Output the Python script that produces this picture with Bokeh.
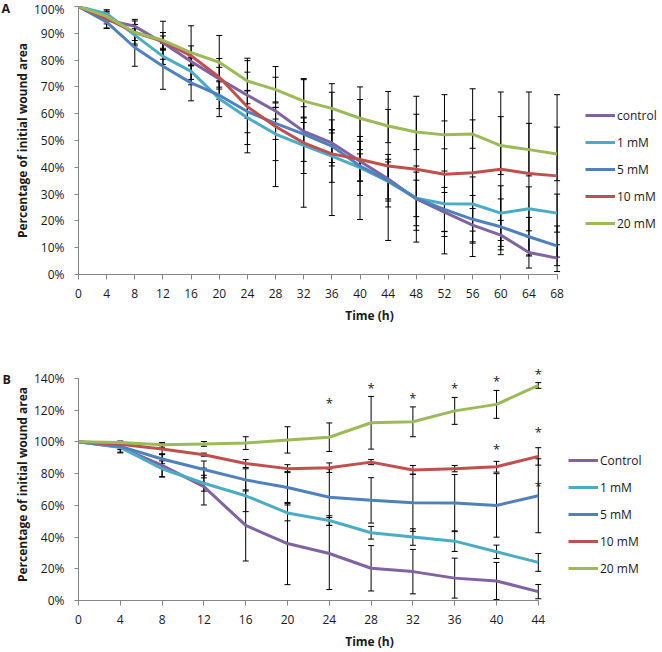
from bokeh.plotting import figure
from bokeh.models import (ColumnDataSource, Whisker, TeeHead, Legend, LegendItem,
                          FixedTicker, PrintfTickFormatter, Label, Range1d)
from bokeh.layouts import column
from bokeh.core.properties import value
from bokeh.embed import file_html
from bokeh.resources import INLINE

FONT = "Open Sans"
COLORS = ["#8064A2", "#4BACC6", "#4F81BD", "#C0504D", "#9BBB59"]

# ---------------- Panel A data ----------------
hours_a = [0, 4, 8, 12, 16, 20, 24, 28, 32, 36, 40, 44, 48, 52, 56, 60, 64, 68]
names_a = ["control", "1 mM", "5 mM", "10 mM", "20 mM"]
a_control = [100, 95.0, 92.6, 86.5, 79.5, 73.0, 66.9, 61.0, 53.4, 49.1, 42.3, 35.6, 28.2, 23.3, 18.4, 14.7, 8.2, 6.1]
a_control_err = [0, 3.0, 2.6, 2.5, 1.6, 7.6, 8.6, 3.0, 5.0, 8.6, 7.4, 7.4, 10.0, 7.3, 6.2, 5.5, 5.8, 5.0]
a_1mm = [100, 97.3, 89.3, 81.4, 75.8, 65.6, 58.5, 52.4, 48.2, 44.2, 39.9, 34.7, 28.5, 26.4, 26.3, 22.9, 24.5, 22.9]
a_1mm_err = [0, 1.5, 4.0, 3.0, 5.0, 6.7, 10.0, 9.9, 10.5, 9.8, 5.1, 7.3, 12.0, 12.2, 10.1, 10.2, 8.2, 7.1]
a_5mm = [100, 94.2, 84.7, 77.7, 71.5, 66.9, 60.8, 56.4, 52.4, 47.9, 40.5, 35.0, 28.4, 24.3, 20.6, 17.8, 14.1, 10.7]
a_5mm_err = [0, 2.4, 7.0, 8.6, 6.7, 5.0, 7.9, 6.0, 10.2, 6.1, 11.0, 9.8, 6.8, 8.2, 8.9, 10.4, 7.2, 7.4]
a_10mm = [100, 95.5, 90.3, 87.0, 81.6, 73.6, 62.6, 55.2, 49.1, 45.0, 42.9, 40.5, 39.3, 37.4, 38.0, 39.3, 37.7, 36.8]
a_10mm_err = [0, 2.0, 3.0, 3.3, 3.7, 3.7, 17.2, 22.4, 24.0, 23.0, 22.4, 27.8, 27.2, 29.7, 31.3, 28.8, 30.4, 30.3]
a_20mm = [100, 96.3, 90.3, 87.4, 82.8, 79.2, 72.2, 69.0, 64.7, 62.0, 58.3, 55.4, 53.2, 52.1, 52.4, 48.1, 46.6, 45.0]
a_20mm_err = [0, 2.0, 4.3, 7.1, 10.0, 10.0, 8.5, 4.6, 8.0, 9.2, 11.7, 6.2, 6.6, 5.2, 5.3, 10.8, 9.8, 10.0]
yticks_a = [0, 10, 20, 30, 40, 50, 60, 70, 80, 90, 100]

# ---------------- Panel B data ----------------
hours_b = [0, 4, 8, 12, 16, 20, 24, 28, 32, 36, 40, 44]
names_b = ["Control", "1 mM", "5 mM", "10 mM", "20 mM"]
b_control = [100, 96.5, 85.1, 71.8, 47.3, 35.9, 29.6, 20.3, 18.2, 14.1, 12.3, 5.6]
b_control_err = [0, 3.5, 7.3, 11.6, 22.4, 25.9, 22.7, 14.3, 14.0, 12.6, 11.7, 4.5]
b_1mm = [100, 96.5, 83.0, 73.9, 66.0, 55.2, 50.4, 42.7, 40.0, 37.4, 30.7, 24.0]
b_1mm_err = [0, 3.0, 5.0, 5.0, 10.0, 5.0, 3.0, 4.0, 5.2, 6.5, 4.2, 5.6]
b_5mm = [100, 97.1, 89.2, 82.6, 76.0, 71.2, 65.1, 63.1, 61.6, 61.4, 59.9, 66.0]
b_5mm_err = [0, 2.0, 3.0, 5.3, 7.0, 10.0, 17.8, 14.3, 18.0, 18.0, 20.0, 23.3]
b_10mm = [100, 98.5, 95.4, 91.9, 86.3, 83.1, 83.7, 87.2, 82.3, 83.1, 84.3, 90.8]
b_10mm_err = [0, 1.0, 3.5, 1.0, 2.5, 2.5, 3.0, 1.6, 2.8, 2.0, 3.4, 5.5]
b_20mm = [100, 99.5, 98.1, 98.7, 99.2, 101.2, 102.9, 112.0, 112.6, 119.5, 123.6, 135.5]
b_20mm_err = [0, 1.0, 1.5, 1.5, 4.0, 8.3, 9.0, 16.6, 9.4, 8.5, 8.8, 1.8]
yticks_b = [0, 20, 40, 60, 80, 100, 120, 140]
star_hours_b = [24, 28, 32, 36, 40, 44, 40, 44, 44]
star_pct_b = [126.1, 136.1, 129.2, 135.5, 140.3, 144.8, 97.5, 107.9, 73.9]

AXIS_COL = "#868686"
TXT_COL = "#1a1a1a"
FIG_W = 662
LEFT = 78


def make_panel(letter, hours, series, errors, names, yticks, y_end, px_per_hour,
               height, top_border, bottom_border, legend_pos, letter_y):
    x_max = hours[-1]
    y_max = yticks[-1]
    frame_w = FIG_W - LEFT - 2
    p = figure(width=FIG_W, height=height, output_backend="svg", toolbar_location=None,
               x_range=Range1d(0, frame_w / px_per_hour), y_range=Range1d(0, y_end),
               min_border_left=LEFT, min_border_right=2, min_border_top=top_border,
               min_border_bottom=bottom_border)
    p.outline_line_color = None
    p.xgrid.visible = False
    p.ygrid.visible = False

    renderers = []
    for vals, col in zip(series, COLORS):
        r = p.line(hours, vals, line_color=col, line_width=3, line_join="round")
        renderers.append(r)

    for vals, errs in zip(series, errors):
        xs = [h for h, e in zip(hours, errs) if e > 0]
        up = [v + e for v, e in zip(vals, errs) if e > 0]
        lo = [v - e for v, e in zip(vals, errs) if e > 0]
        src = ColumnDataSource(dict(x=xs, upper=up, lower=lo))
        w = Whisker(source=src, base="x", upper="upper", lower="lower",
                    line_color="black", line_width=1,
                    upper_head=TeeHead(size=6, line_color="black", line_width=1),
                    lower_head=TeeHead(size=6, line_color="black", line_width=1))
        p.add_layout(w)

    for ax in (p.xaxis[0], p.yaxis[0]):
        ax.axis_line_color = AXIS_COL
        ax.major_tick_line_color = AXIS_COL
        ax.minor_tick_line_color = None
        ax.major_tick_in = 0
        ax.major_label_text_font = FONT
        ax.major_label_text_font_size = "12px"
        ax.major_label_text_color = TXT_COL
        ax.axis_label_text_font = FONT
        ax.axis_label_text_font_style = "bold"
        ax.axis_label_text_color = TXT_COL

    p.xaxis.ticker = FixedTicker(ticks=hours)
    p.xaxis.bounds = (0, x_max)
    p.xaxis.major_tick_out = 5
    p.xaxis.major_label_standoff = 9
    p.xaxis.axis_label = "Time (h)"
    p.xaxis.axis_label_text_font_size = "12px"
    p.xaxis.axis_label_standoff = 6

    p.yaxis.ticker = FixedTicker(ticks=yticks)
    p.yaxis.bounds = (0, y_max)
    p.yaxis.formatter = PrintfTickFormatter(format="%d%%")
    p.yaxis.major_tick_out = 4
    p.yaxis.major_label_standoff = 10
    p.yaxis.axis_label = "Percentage of initial wound area"
    p.yaxis.axis_label_text_font_size = "12px"
    p.yaxis.axis_label_standoff = 0

    items = [LegendItem(label=n, renderers=[r]) for n, r in zip(names, renderers)]
    leg = Legend(items=items, location=legend_pos, glyph_width=30, glyph_height=20,
                 label_height=20, spacing=7, padding=0, margin=0, label_standoff=2,
                 border_line_color=None, background_fill_alpha=0,
                 label_text_font=FONT, label_text_font_size="12px",
                 label_text_color=TXT_COL)
    p.add_layout(leg)

    p.add_layout(Label(x=0, y=letter_y, x_units="screen", y_units="screen", text=letter,
                       text_font=FONT, text_font_style="bold", text_font_size="12.5px",
                       text_color=TXT_COL, text_baseline="top"), "left")
    return p


pa = make_panel("A", hours_a,
                [a_control, a_1mm, a_5mm, a_10mm, a_20mm],
                [a_control_err, a_1mm_err, a_5mm_err, a_10mm_err, a_20mm_err],
                names_a, yticks_a, 100, 7.038, 326, 6, 48, (507, 41), 275)

pb = make_panel("B", hours_b,
                [b_control, b_1mm, b_5mm, b_10mm, b_20mm],
                [b_control_err, b_1mm_err, b_5mm_err, b_10mm_err, b_20mm_err],
                names_b, yticks_b, 146.2, 10.45, 326, 42, 49, (490, 22), 230)

star_src = ColumnDataSource(dict(x=star_hours_b, y=star_pct_b, t=["*"] * len(star_hours_b)))
pb.text(x="x", y="y", text="t", source=star_src, text_align="center", text_baseline="middle",
        text_font=value(FONT), text_font_size="13px", text_color=TXT_COL, y_offset=3)

layout = column(pa, pb, spacing=0)
open("out.html", "w").write(file_html(layout, INLINE))
